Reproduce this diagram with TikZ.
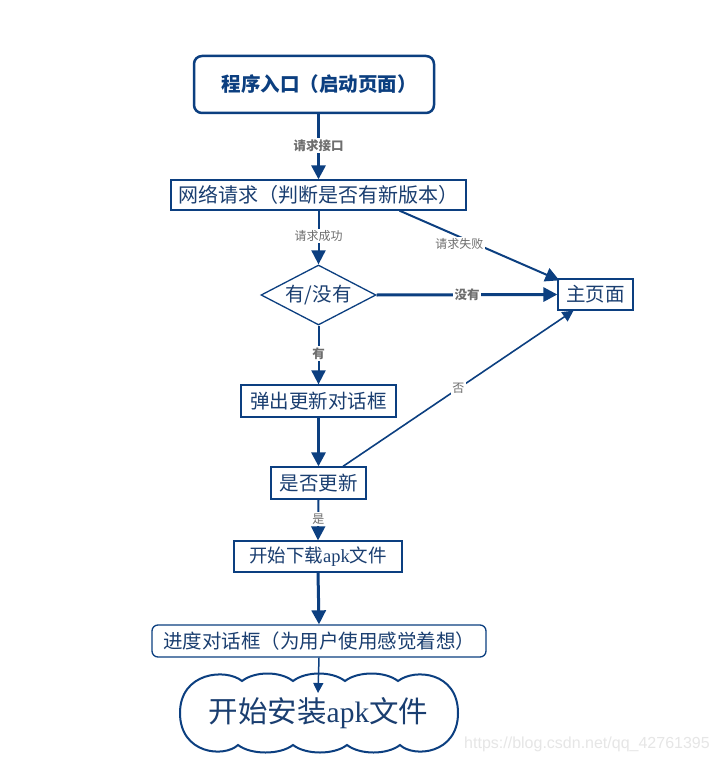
\documentclass[tikz,border=0pt]{standalone}
\usepackage{fontspec}
\setmainfont{Noto Sans CJK SC}
\newfontfamily\latserif{Liberation Serif}
\newfontfamily\latsans{Liberation Sans}
\usetikzlibrary{arrows.meta,shapes.geometric}
\definecolor{dblue}{HTML}{0C3F80}
\definecolor{tblue}{HTML}{1A3E70}
\definecolor{lgrey}{HTML}{6E6E6E}
\definecolor{wmark}{HTML}{E6E6E6}
\begin{document}
\begin{tikzpicture}[x=1pt,y=-1pt,
  box/.style={draw=dblue, line width=1.3pt, fill=white, inner sep=0pt, text=tblue, font=\fontsize{19.5}{21}\selectfont},
  conn/.style={draw=dblue, -{Triangle[length=14pt,width=14pt]}},
  lbl/.style={fill=white, text=lgrey, inner sep=1.5pt, font=\fontsize{12}{14}\selectfont},
  blbl/.style={lbl, font=\fontsize{12.5}{14}\selectfont\bfseries},
]
\useasboundingbox (0,0) rectangle (717,762);
\fill[white] (0,0) rectangle (717,762);

\node[box, line width=2.5pt, rounded corners=8pt, minimum width=240pt, minimum height=57pt, font=\fontsize{19.5}{21}\selectfont\bfseries, text=dblue] (start) at (314,84.5) {\hspace{10pt}程序入口（启动页面）};
\node[box, minimum width=295pt, minimum height=30pt, font=\fontsize{20}{21}\selectfont] (req) at (318.5,195) {网络请求（判断是否有新版本）};
\node[box, diamond, shape aspect=1.92, minimum width=115pt, minimum height=60pt] (dec) at (318.5,295) {有/没有};
\node[box, minimum width=75pt, minimum height=31pt] (main) at (595.5,294.5) {主页面};
\node[box, minimum width=155pt, minimum height=32pt] (popup) at (318.5,401) {弹出更新对话框};
\node[box, minimum width=95pt, minimum height=32pt] (isupd) at (318.5,483) {是否更新};
\node[box, minimum width=168pt, minimum height=31pt, font=\fontsize{18.5}{21}\selectfont] (dl) at (318,556.5) {开始下载{\latserif apk}文件};
\node[box, rounded corners=6pt, minimum width=334pt, minimum height=32pt] (prog) at (319,641) {进度对话框（为用户使用感觉着想）};

% cloud outline
\draw[dblue, line width=2pt, fill=white]
  (242,681) .. controls (255,671) and (280,671) .. (293,681)
  .. controls (306,671) and (332,671) .. (345,681)
  .. controls (358,671) and (385,671) .. (398,681)
  .. controls (415,668) and (458,672) .. (458,713)
  .. controls (458,754) and (414,758) .. (400,745)
  .. controls (387,755) and (360,755) .. (347,745)
  .. controls (334,755) and (306,755) .. (293,745)
  .. controls (280,755) and (251,755) .. (238,745)
  .. controls (224,758) and (180,754) .. (180,713)
  .. controls (180,672) and (226,668) .. (242,681) -- cycle;
\node[inner sep=0pt, minimum width=277pt, minimum height=77pt, text=tblue, font=\fontsize{29.5}{31}\selectfont] (cloud) at (318.5,713.5) {开始安装{\latserif apk}文件};
\coordinate (cin) at (318,693);

\draw[conn, line width=3pt] (start.south -| req.north) -- (req.north) node[blbl, pos=0.48] {请求接口};
\draw[conn, line width=2pt] (req.south) -- (dec.north) node[lbl, pos=0.47] {请求成功};
\draw[conn, line width=2pt] ([xshift=81pt]req.south) -- ([xshift=2pt,yshift=-2pt]main.north west) node[lbl, pos=0.375, yshift=-7pt] {请求失败};
\draw[conn, line width=3pt] (dec.east) -- (main.west) node[blbl, pos=0.5] {没有};
\draw[conn, line width=2pt] (dec.south) -- (popup.north) node[blbl, pos=0.48] {有};
\draw[conn, line width=3pt] (popup.south) -- (isupd.north);
\draw[conn, line width=1.6pt, -{Triangle[length=11pt,width=11pt]}] ([xshift=24.5pt]isupd.north) -- ([xshift=-22pt]main.south) node[lbl, pos=0.5] {否};
\draw[conn, line width=2pt] (isupd.south) -- (dl.north) node[lbl, pos=0.48] {是};
\draw[conn, line width=3pt] (dl.south) -- (prog.north);
\draw[conn, line width=1.5pt, -{Triangle[length=10pt,width=10pt]}] (prog.south) -- (cin);

\node[text=wmark, font=\latsans\fontsize{16}{18}\selectfont, inner sep=0pt] (wm) at (587,744) {https://blog.csdn.net/qq\_42761395};
\end{tikzpicture}
\end{document}
